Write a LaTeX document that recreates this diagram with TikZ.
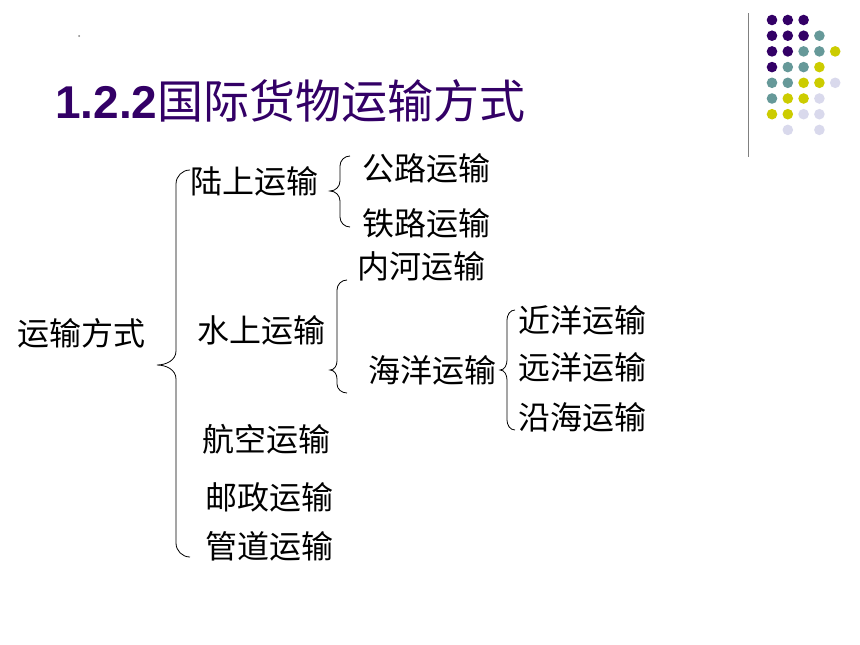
\documentclass[tikz,border=0pt]{standalone}
\usepackage{fontspec}
\setmainfont{Liberation Sans}
\newfontfamily\cjk{Noto Sans CJK SC}
\definecolor{titlepurple}{RGB}{51,0,102}
\definecolor{dotpurple}{RGB}{51,0,102}
\definecolor{dotteal}{RGB}{102,153,153}
\definecolor{dotyellow}{RGB}{204,204,0}
\definecolor{dotlilac}{RGB}{217,217,236}

\begin{document}
\begin{tikzpicture}[x=1pt,y=1pt,
  item/.style={anchor=west, inner sep=0pt, font=\cjk\fontsize{32}{32}\selectfont},
  brace/.style={line width=0.8pt}]
\useasboundingbox (0,0) rectangle (860,-645);

\foreach \c/\r/\col in {0/0/dotpurple, 1/0/dotpurple, 2/0/dotpurple,
  0/1/dotpurple, 1/1/dotpurple, 2/1/dotpurple, 3/1/dotteal,
  0/2/dotpurple, 1/2/dotpurple, 2/2/dotteal, 3/2/dotteal, 4/2/dotyellow,
  0/3/dotpurple, 1/3/dotteal, 2/3/dotteal, 3/3/dotyellow,
  0/4/dotteal, 1/4/dotteal, 2/4/dotyellow, 3/4/dotyellow, 4/4/dotlilac,
  0/5/dotteal, 1/5/dotyellow, 2/5/dotyellow, 3/5/dotlilac,
  0/6/dotyellow, 1/6/dotyellow, 2/6/dotlilac, 3/6/dotlilac,
  1/7/dotlilac, 3/7/dotlilac}
  \fill[\col] (772+15.8*\c, -20-15.7*\r) circle (5.3);

\draw[gray, line width=1.5pt] (748.5,-13) -- (748.5,-157);
\fill[gray] (79,-36) circle (1);

\node[anchor=west, inner sep=0pt, text=titlepurple, font=\fontsize{46}{46}\selectfont] (v0) at (55,-101) {\textbf{1.2.2}{\cjk 国际货物运输方式}};

\node[item] (v1) at (17,-333) {运输方式};
\node[item] (v2) at (190,-181) {陆上运输};
\node[item] (v3) at (362,-168) {公路运输};
\node[item] (v4) at (362,-223) {铁路运输};
\node[item] (v5) at (357,-266) {内河运输};
\node[item] (v6) at (197,-330) {水上运输};
\node[item] (v7) at (368,-370) {海洋运输};
\node[item] (v8) at (518,-320) {近洋运输};
\node[item] (v9) at (518,-367) {远洋运输};
\node[item] (v10) at (518,-417) {沿海运输};
\node[item] (v11) at (202,-439) {航空运输};
\node[item] (v12) at (205,-497) {邮政运输};
\node[item] (v13) at (205,-546) {管道运输};

\node[coordinate] (v20) at (190,-170) {};
\node[coordinate] (v21) at (157,-365) {};
\node[coordinate] (v22) at (190,-557) {};
\node[coordinate] (v23) at (350,-156) {};
\node[coordinate] (v24) at (330,-191) {};
\node[coordinate] (v25) at (350,-227) {};
\node[coordinate] (v26) at (347,-280) {};
\node[coordinate] (v27) at (330,-370) {};
\node[coordinate] (v28) at (347,-393) {};
\node[coordinate] (v29) at (515,-310) {};
\node[coordinate] (v30) at (500,-370) {};
\node[coordinate] (v31) at (515,-430) {};

\draw[brace] (v20) to[out=180,in=90] ++(-14,-14) -- ++(0,-167) to[out=270,in=0] (v21) to[out=0,in=90] ++(19,-14) -- ++(0,-164) to[out=270,in=180] (v22);
\draw[brace] (v23) to[out=180,in=90] ++(-10,-10) -- ++(0,-15) to[out=270,in=0] (v24) to[out=0,in=90] ++(10,-10) -- ++(0,-16) to[out=270,in=180] (v25);
\draw[brace] (v26) to[out=180,in=90] ++(-10,-10) -- ++(0,-71) to[out=270,in=0] (v27) to[out=0,in=90] ++(7,-9) -- ++(0,-5) to[out=270,in=180] (v28);
\draw[brace] (v29) to[out=180,in=90] ++(-8,-10) -- ++(0,-40) to[out=270,in=0] (v30) to[out=0,in=90] ++(7,-10) -- ++(0,-40) to[out=270,in=180] (v31);

\end{tikzpicture}
\end{document}
